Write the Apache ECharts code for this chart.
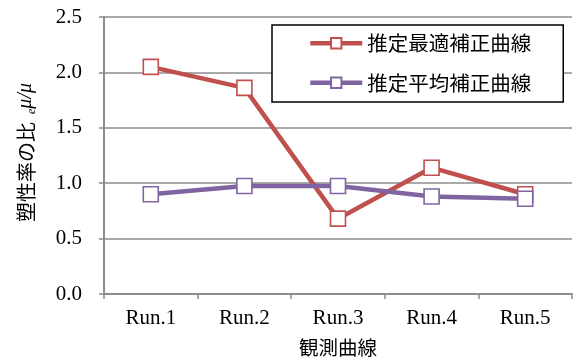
<!DOCTYPE html>
<html>
<head>
<meta charset="utf-8">
<script src="https://cdn.jsdelivr.net/npm/echarts@6/dist/echarts.min.js"></script>
<style>
  html, body { margin: 0; padding: 0; background: #fff; }
  #chart { width: 573px; height: 358px; }
</style>
</head>
<body>
<div id="chart"></div>
<script>
// Observed curves on the horizontal axis
const runs = ['Run.1', 'Run.2', 'Run.3', 'Run.4', 'Run.5'];

// Ductility ratio eμ/μ for each correction curve
const bestFit = [2.05, 1.86, 0.68, 1.14, 0.90];
const meanFit = [0.90, 0.975, 0.975, 0.88, 0.86];

const seriesNames = ['推定最適補正曲線', '推定平均補正曲線'];
const yTicks = { min: 0, max: 2.5, step: 0.5 };

const CJK = '"Noto Sans CJK JP", "Noto Sans", sans-serif';
const SERIF = '"Liberation Serif", "DejaVu Serif", serif';
const AXIS_GREY = '#8c8c8c';

function lineSeries(name, values, color, border) {
  return {
    name: name,
    type: 'line',
    data: values,
    symbol: 'rect',
    symbolSize: 15,
    showAllSymbol: true,
    lineStyle: { color: color, width: 4.5 },
    itemStyle: { color: '#ffffff', borderColor: border, borderWidth: 1.6 },
    emphasis: { disabled: true },
    z: 3
  };
}

const chart = echarts.init(document.getElementById('chart'), null, { renderer: 'canvas' });

chart.setOption({
  animation: false,
  backgroundColor: '#ffffff',
  grid: { left: 104, right: 1, top: 17, bottom: 64, containLabel: false, outerBoundsMode: 'none' },
  legend: {
    orient: 'vertical',
    left: 272,
    top: 25,
    padding: [8, 32, 9, 36],
    itemGap: 19,
    itemWidth: 52,
    itemHeight: 13,
    borderColor: '#000',
    borderWidth: 1.5,
    backgroundColor: '#fff',
    lineStyle: { width: 4.5 },
    textStyle: { fontFamily: CJK, fontSize: 20.5, color: '#000', lineHeight: 20 },
    data: seriesNames
  },
  xAxis: {
    type: 'category',
    data: runs,
    boundaryGap: true,
    name: '観測曲線',
    nameLocation: 'middle',
    nameGap: 44,
    nameTextStyle: { fontFamily: CJK, fontSize: 19.5, color: '#000' },
    axisLine: { lineStyle: { color: AXIS_GREY, width: 2 } },
    axisTick: { show: true, length: 5, alignWithLabel: false, lineStyle: { color: AXIS_GREY, width: 1.5 } },
    axisLabel: { fontFamily: SERIF, fontSize: 21, color: '#000', margin: 14 },
    splitLine: { show: false }
  },
  yAxis: {
    type: 'value',
    min: yTicks.min,
    max: yTicks.max,
    interval: yTicks.step,
    name: '塑性率の比{sub|e}{it|μ/μ}',
    nameLocation: 'middle',
    nameRotate: 90,
    nameGap: 66,
    nameTextStyle: {
      fontFamily: CJK,
      fontSize: 20,
      color: '#000',
      padding: [0, 0, 0, 6],
      rich: {
        sub: { fontFamily: SERIF, fontStyle: 'italic', fontSize: 12, color: '#000', verticalAlign: 'bottom', lineHeight: 24, padding: [6, 0, 0, 8] },
        it: { fontFamily: SERIF, fontStyle: 'italic', fontSize: 20, color: '#000' }
      }
    },
    axisLine: { show: true, lineStyle: { color: AXIS_GREY, width: 2 } },
    axisTick: { show: true, length: 5, lineStyle: { color: AXIS_GREY, width: 1.5 } },
    axisLabel: {
      fontFamily: SERIF,
      fontSize: 21,
      color: '#000',
      margin: 22,
      formatter: v => v.toFixed(1)
    },
    splitLine: { show: true, lineStyle: { color: AXIS_GREY, width: 1.5 } }
  },
  series: [
    lineSeries(seriesNames[0], bestFit, '#C0504D', '#C0504D'),
    lineSeries(seriesNames[1], meanFit, '#8064A2', '#8064A2')
  ]
});
</script>
</body>
</html>
